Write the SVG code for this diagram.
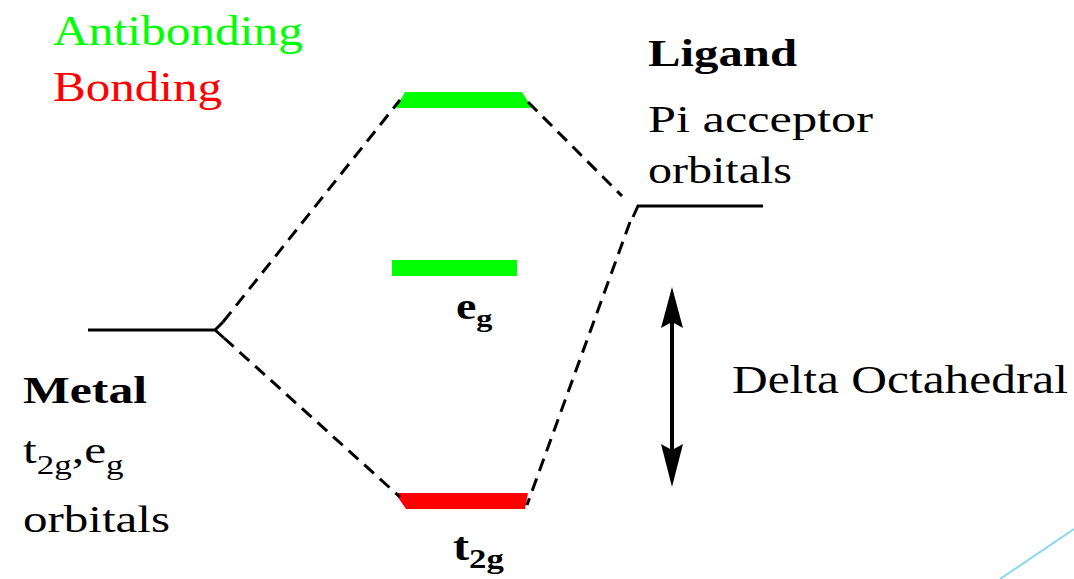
<svg xmlns="http://www.w3.org/2000/svg" width="1074" height="579" viewBox="0 0 1074 579">
<style>
.t{font-family:'Liberation Serif','Times New Roman',Times,serif;fill:#000}
.b{font-weight:bold}
.lvl{fill:none;stroke:#000;stroke-width:3}
.dash{fill:none;stroke:#000;stroke-width:3;stroke-dasharray:13 8}
</style>
<rect width="1074" height="579" fill="#fff"/>
<g id="legend">
<text class="t" x="53" y="45" font-size="43" textLength="250" lengthAdjust="spacingAndGlyphs" style="fill:#00ff00">Antibonding</text>
<text class="t" x="53" y="101" font-size="42" textLength="169" lengthAdjust="spacingAndGlyphs" style="fill:#ff0000">Bonding</text>
</g>
<g id="ligand-label">
<text class="t b" x="648" y="66" font-size="37" textLength="149" lengthAdjust="spacingAndGlyphs">Ligand</text>
<text class="t" x="648" y="132" font-size="38" textLength="225" lengthAdjust="spacingAndGlyphs">Pi acceptor</text>
<text class="t" x="648" y="183" font-size="38" textLength="144" lengthAdjust="spacingAndGlyphs">orbitals</text>
</g>
<g id="metal-label">
<text class="t b" x="23" y="403" font-size="37" textLength="124" lengthAdjust="spacingAndGlyphs">Metal</text>
<text class="t" transform="translate(23,463) scale(1.3,1)" font-size="38">t<tspan font-size="27" dy="11">2g</tspan><tspan dy="-11">,e</tspan><tspan font-size="27" dy="11">g</tspan></text>
<text class="t" x="23" y="532" font-size="38" textLength="147" lengthAdjust="spacingAndGlyphs">orbitals</text>
</g>
<g id="antibonding-level">
<polygon points="405,92 522,92 532,108 396,108" fill="#00ff00"/>
</g>
<g id="eg-level">
<rect x="392" y="260" width="125" height="16" fill="#00ff00"/>
<text class="t b" transform="translate(456,319) scale(1.24,1)" font-size="37">e<tspan font-size="26" dy="8">g</tspan></text>
</g>
<g id="t2g-level">
<polygon points="395,493 528,493 525,509 406,509" fill="#ff0000"/>
<text class="t b" transform="translate(453,560) scale(1.24,1)" font-size="39">t<tspan font-size="28" dy="8">2g</tspan></text>
</g>
<g id="metal-level">
<path class="lvl" d="M88,330 H215 L223,322 M215,330 L224,338"/>
</g>
<g id="ligand-level">
<path class="lvl" d="M633,217 L638,206 H763"/>
</g>
<g id="connectors">
<path class="dash" d="M223,322 L400,100"/>
<path class="dash" d="M224,338 L400,497"/>
<path class="dash" d="M528,102 L622,196"/>
<path class="dash" d="M630,222 L527,505"/>
</g>
<g id="delta-arrow">
<line x1="672" y1="322" x2="672" y2="450" stroke="#000" stroke-width="4"/>
<polygon points="672,287 683,328 672,322 661,328" fill="#000"/>
<polygon points="672,487 683,444 672,450 661,444" fill="#000"/>
<text class="t" x="732" y="393" font-size="39" textLength="336" lengthAdjust="spacingAndGlyphs">Delta Octahedral</text>
</g>
<line x1="1000" y1="579" x2="1074" y2="529" stroke="#88d8ee" stroke-width="2"/>
</svg>
